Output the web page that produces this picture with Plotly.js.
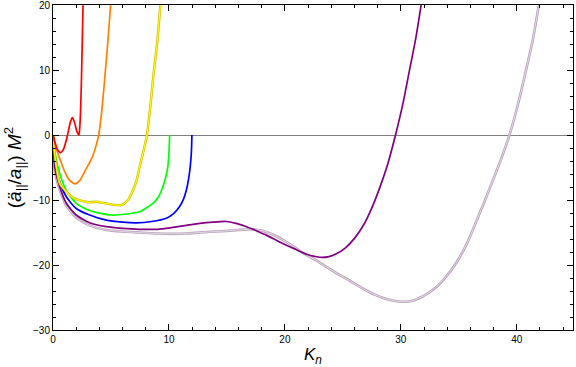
<!DOCTYPE html>
<html><head><meta charset="utf-8">
<script src="https://cdn.plot.ly/plotly-3.0.1.min.js"></script>
<style>html,body{margin:0;padding:0;background:#fff}</style>
</head><body><div id="chart" style="width:576px;height:367px"></div>
<script>
// Data
const redX = [0, 0.2, 0.4, 0.66, 0.9, 1.2, 1.5, 1.67, 1.85, 2.05, 2.24, 2.33, 2.4, 2.46, 2.52, 2.59];
const redY = [0, -1.3, -2.3, -2.7, -2.2, -0.4, 2.0, 2.7, 2.0, 0.6, 0, 1.8, 5, 9, 14, 20];
const orangeX = [0, 0.3, 0.6, 1.0, 1.4, 1.87, 2.3, 2.8, 3.2, 3.45, 3.7, 3.94, 4.15, 4.31, 4.5, 4.74, 4.97];
const orangeY = [0, -2.2, -3.7, -5.6, -6.9, -7.5, -7.0, -5.4, -4.1, -3.1, -1.7, 0, 2.8, 5.6, 9.5, 14.6, 20];
const yellowX = [0, 0.15, 0.3, 0.58, 1.15, 1.72, 2.4, 3.16, 3.74, 4.5, 5.3, 5.8, 6.1, 6.5, 6.9, 7.2, 7.47, 7.8, 8.1, 8.4, 8.68, 9.0, 9.26];
const yellowY = [0, -3, -5, -7.4, -8.7, -9.6, -10.1, -10.35, -10.25, -10.5, -10.75, -10.8, -10.6, -9.9, -8.5, -7.0, -4.9, -2.5, 0, 4.5, 9.5, 14.5, 20];
const greenX = [0, 0.23, 0.58, 1.15, 2.0, 3.16, 4.0, 5.03, 6.33, 7.47, 8.62, 9.1, 9.48, 9.75, 9.9, 10.0, 10.06];
const greenY = [0, -3.3, -5.9, -8.5, -10.5, -11.6, -12.0, -12.3, -12.15, -11.8, -10.5, -9.5, -7.95, -6.3, -4.9, -2.8, 0];
const blueX = [0, 0.15, 0.58, 1.15, 2.0, 3.16, 4.6, 6.0, 7.19, 8.5, 9.78, 10.4, 10.92, 11.25, 11.5, 11.7, 11.84, 11.94, 11.98];
const blueY = [0, -3.8, -7.2, -9.5, -11.3, -12.3, -13.1, -13.4, -13.5, -13.3, -12.8, -12.1, -11.0, -9.9, -8.5, -6.7, -4.8, -2.5, 0];
const purpleX = [0, 0.15, 0.58, 1.15, 2.0, 3.16, 4.6, 6.0, 7.47, 9.0, 10.35, 11.5, 12.65, 13.8, 14.95, 15.8, 16.7, 17.5, 18.4, 19.5, 20.7, 21.8, 22.99, 23.7, 24.4, 25.2, 26.0, 26.8, 27.5, 28.16, 28.9, 29.54, 30.2, 30.75, 31.3, 31.75];
const purpleY = [0, -4.9, -7.95, -10.5, -12.3, -13.5, -14.1, -14.35, -14.5, -14.5, -14.2, -13.9, -13.6, -13.4, -13.3, -13.6, -14.1, -14.7, -15.4, -16.4, -17.4, -18.3, -18.8, -18.75, -18.3, -17.4, -15.9, -13.8, -11.2, -8.2, -4.3, 0, 5, 10, 15, 20];
const paleX = [0, 0.15, 0.58, 1.15, 2.0, 3.16, 4.6, 6.0, 7.47, 9.0, 10.35, 11.5, 12.65, 14.0, 15.0, 16.0, 16.96, 17.7, 18.4, 19.2, 20.0, 20.7, 21.27, 22.0, 22.7, 23.6, 24.6, 25.58, 26.7, 27.8, 28.9, 30.03, 31.0, 32.0, 33.0, 33.9, 34.8, 35.7, 36.8, 37.6, 38.5, 39.37, 40.1, 40.8, 41.4, 41.9];
const paleY = [0, -5.5, -8.4, -10.9, -12.7, -13.9, -14.6, -14.85, -15.0, -15.15, -15.2, -15.15, -15.0, -14.85, -14.75, -14.6, -14.5, -14.6, -14.9, -15.5, -16.3, -17.1, -17.8, -18.6, -19.3, -20.3, -21.4, -22.4, -23.6, -24.6, -25.3, -25.65, -25.5, -24.7, -23.5, -21.8, -19.6, -16.7, -12.05, -8.5, -4.4, 0, 4.7, 10.0, 14.8, 20];

const xTicks = [0, 10, 20, 30, 40];
const yTicks = [-30, -20, -10, 0, 10, 20];

function line(x, y, color, width) {
  return {x: x, y: y, type: 'scatter', mode: 'lines', line: {color: color, width: width, shape: 'spline', smoothing: 0.6}, hoverinfo: 'skip', showlegend: false};
}

const traces = [
  line(paleX, paleY, '#b9a1b9', 2.6),
  line(paleX, paleY, '#f0e8f0', 0.8),
  line(purpleX, purpleY, '#800080', 1.7),
  line(blueX, blueY, '#0000ff', 1.7),
  line(greenX, greenY, '#00ff00', 1.7),
  line(yellowX, yellowY, '#c8b400', 2.4),
  line(yellowX, yellowY, '#ffff00', 1.2),
  line(orangeX, orangeY, '#ff8000', 1.7),
  line(redX, redY, '#ff0000', 1.7)
];

const tickFont = {family: 'Liberation Sans, Arial, sans-serif', size: 10, color: '#000'};
const layout = {
  width: 576, height: 367,
  margin: {l: 53, r: 3, t: 5, b: 37},
  paper_bgcolor: '#fff', plot_bgcolor: '#fff',
  showlegend: false,
  xaxis: {
    range: [0, 44.85], tickvals: xTicks, ticktext: xTicks.map(String),
    ticks: 'inside', ticklen: 6, tickcolor: '#000', tickwidth: 1,
    minor: {dtick: 2, tick0: 0, ticks: 'inside', ticklen: 3, tickcolor: '#000'},
    showline: true, linecolor: '#000', linewidth: 1, mirror: 'allticks',
    showgrid: false, zeroline: false, tickfont: tickFont, ticklabeloverflow: 'allow',
    title: {text: '<i>K</i><sub><i>n</i></sub>', font: {family: 'Liberation Sans, Arial, sans-serif', size: 17, color: '#000'}, standoff: 6}
  },
  yaxis: {
    range: [-30, 20.02], tickvals: yTicks, ticktext: yTicks.map(v => v < 0 ? '\u2212' + Math.abs(v) : String(v)),
    ticks: 'inside', ticklen: 6, tickcolor: '#000', tickwidth: 1,
    minor: {dtick: 2, tick0: 0, ticks: 'inside', ticklen: 3, tickcolor: '#000'},
    showline: true, linecolor: '#000', linewidth: 1, mirror: 'allticks',
    showgrid: false, zeroline: true, zerolinecolor: '#808080', zerolinewidth: 1,
    tickfont: tickFont, ticklabeloverflow: 'allow',
    title: {text: '(<i>ä</i><sub>||</sub>/<i>a</i><sub>||</sub>) <i>M</i><sup>2</sup>', font: {family: 'Liberation Sans, Arial, sans-serif', size: 19, color: '#000'}, standoff: 6}
  }
};

Plotly.newPlot('chart', traces, layout, {staticPlot: true, displayModeBar: false});
</script></body></html>
